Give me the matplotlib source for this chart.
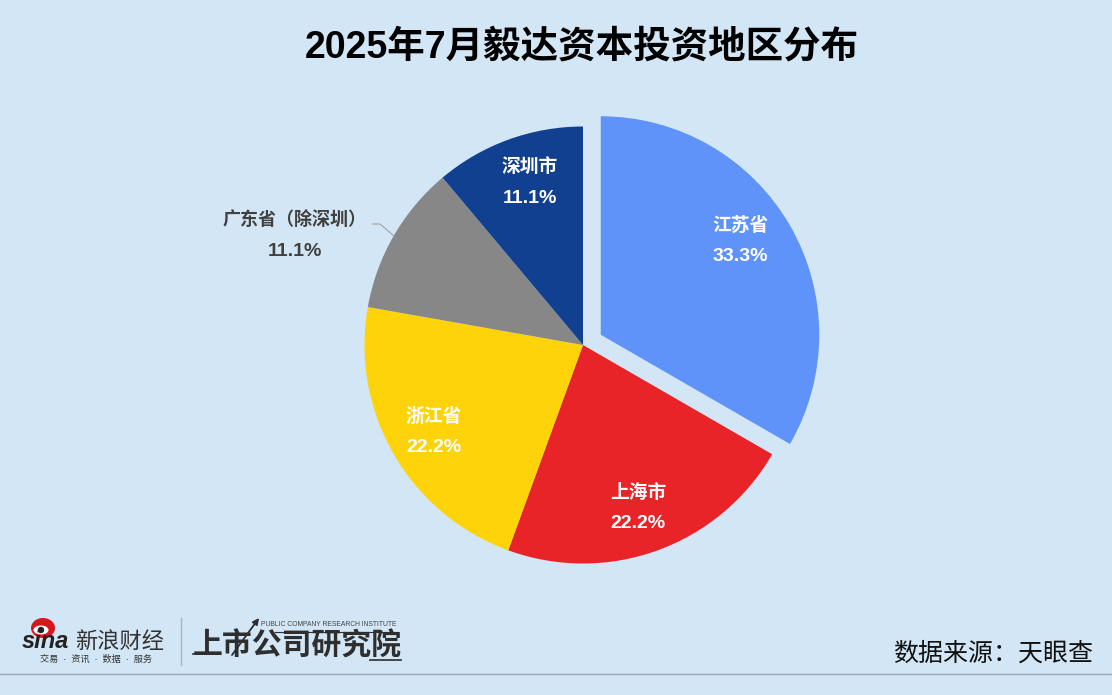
import matplotlib
matplotlib.use("Agg")
import matplotlib.pyplot as plt
import matplotlib.transforms as mt
from matplotlib.patches import Ellipse, Circle

FONT = ['Liberation Sans', 'Noto Sans CJK SC', 'DejaVu Sans']
plt.rcParams['font.family'] = FONT

W, H = 1112, 695
BG = '#D2E6F5'
title = '2025年7月毅达资本投资地区分布'
source = '数据来源\uff1a天眼查'
regions = ['江苏省', '上海市', '浙江省', '广东省\uff08除深圳\uff09', '深圳市']
values = [33.3, 22.2, 22.2, 11.1, 11.1]
colors = ['#6093F9', '#E82428', '#FFD30A', '#878787', '#10408F']
explode = [20.5, 0, 0, 0, 0]
label_colors = ['white', 'white', 'white', '#404040', 'white']

fig = plt.figure(figsize=(W/100, H/100), dpi=100, facecolor=BG)
ax = fig.add_axes([0, 0, 1, 1])

cx, cy, r = 583, 345, 218.5
wedges, _ = ax.pie(values, colors=colors, explode=explode, startangle=90,
                   counterclock=False, center=(cx, cy), radius=r, frame=False)
ax.set_xlim(0, W)
ax.set_ylim(H, 0)
ax.set_aspect('auto')
ax.axis('off')
# y axis is inverted: mirror the wedges back to screen orientation
flip = mt.Affine2D().translate(-cx, -cy).scale(1, -1).translate(cx, cy) + ax.transData
for w in wedges:
    w.set_transform(flip)

label_xy = [(740, 241), (638, 508.5), (434, 432), (295, 236), (530, 183)]
label_sizes = [13.5, 13.5, 13.5, 13, 13.5]
for name, v, (x, y), c, fs in zip(regions, values, label_xy, label_colors, label_sizes):
    ax.text(x, y - 15.5, name, ha='center', va='center', fontsize=fs, fontweight='bold', color=c)
    ax.text(x, y + 15.5, f'{v:.1f}%', ha='center', va='center', fontsize=14, fontweight='bold', color=c)

ax.plot([373, 380, 394], [224, 224, 236], color='#9A9A9A', lw=0.7)

ax.text(582, 48, title, ha='center', va='center', fontsize=27, fontweight='bold', color='black')
ax.text(1093, 654, source, ha='right', va='center', fontsize=18, color='#111111')

# sina logo: eye mark and wordmark
ax.add_patch(Ellipse((43, 628), 24, 20, facecolor='#D8161E', edgecolor='none', zorder=3))
ax.add_patch(Ellipse((41, 630), 15, 9, facecolor='white', edgecolor='none', zorder=4))
ax.add_patch(Circle((41, 630), 3.2, facecolor='#222222', edgecolor='none', zorder=5))
ax.text(22, 642, 'sina', ha='left', va='center', fontsize=17, fontweight='bold', style='italic',
        color='#222222', zorder=6)
ax.text(75, 642, '新浪财经', ha='left', va='center', fontsize=16, color='#333333', style='italic')
ax.text(40, 659.5, '交易  ·  资讯  ·  数据  ·  服务', ha='left', va='center', fontsize=6.6, color='#333333')
ax.plot([181, 181], [618, 665], color='#A9B5BF', lw=1.0)

# research institute wordmark
ax.text(193, 646, '上市公司研究院', ha='left', va='center', fontsize=21.5, fontweight='bold',
        style='italic', color='#2E2E2E')
ax.text(261, 625, 'PUBLIC COMPANY RESEARCH INSTITUTE', ha='left', va='center', fontsize=4.9, color='#444444')
ax.annotate('', xy=(259, 618), xytext=(232, 655),
            arrowprops=dict(arrowstyle='-|>', color='#2E2E2E', lw=1.3, mutation_scale=9, shrinkA=0, shrinkB=0))
ax.plot([275, 397], [632, 632], color='#2E2E2E', lw=0.8)
ax.plot([193, 215], [654, 654], color='#2E2E2E', lw=1.2)
ax.plot([370, 401], [660, 660], color='#2E2E2E', lw=1.2)

ax.plot([0, W], [673.5, 673.5], color='#9AA8B6', lw=1.0)

fig.savefig('out.png', dpi=100, facecolor=BG)
